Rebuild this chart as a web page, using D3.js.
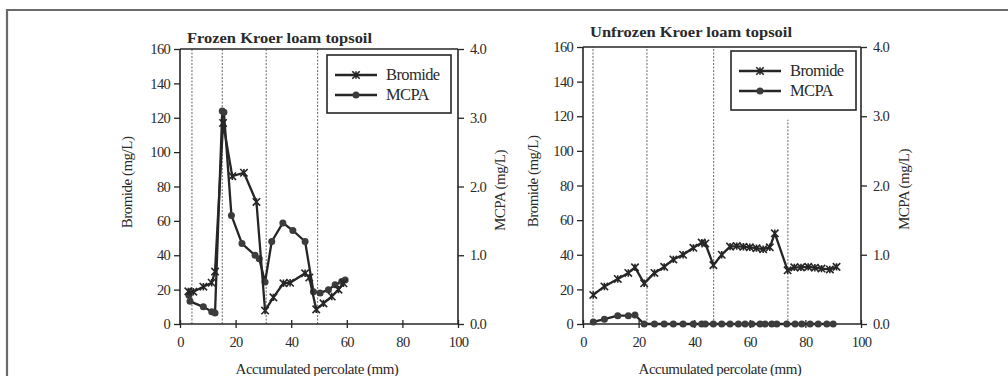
<!DOCTYPE html>
<html>
<head>
<meta charset="utf-8">
<script src="https://cdn.jsdelivr.net/npm/d3@7"></script>
<style>
  html, body { margin: 0; padding: 0; background: #fff; }
  svg { display: block; }
  text { font-family: "Liberation Serif", "DejaVu Serif", serif; fill: #2a2a2a; }
</style>
</head>
<body>
<svg id="chart" width="1008" height="376"></svg>
<script>
// ---------- Data ----------
const xTicks = [0, 20, 40, 60, 80, 100];
const bromideTicks = [0, 20, 40, 60, 80, 100, 120, 140, 160];
const mcpaTicks = [0, 1, 2, 3, 4];

// Frozen Kroer loam topsoil
const frozenBromideX = [3, 4.8, 8.4, 11.4, 12.6, 15.5, 18.8, 23, 27.5, 30.6, 33.6, 37.2, 39.6, 45, 46.5, 49, 51.6, 54.6, 57, 58.8];
const frozenBromideY = [19, 18.8, 21.7, 24, 30.5, 117, 86, 88, 71, 7.8, 15.5, 23.7, 24, 29.5, 27, 8.5, 12, 16, 20, 23.7];
const frozenMcpaX = [3.2, 3.6, 8.4, 11.4, 12.6, 15.2, 15.8, 18.5, 22.3, 27, 28.5, 30.6, 33, 37, 40.6, 45, 48, 50.4, 53.4, 55.8, 58.2, 59.4];
const frozenMcpaY = [0.42, 0.33, 0.25, 0.18, 0.16, 3.1, 3.08, 1.58, 1.17, 1.0, 0.95, 0.61, 1.2, 1.47, 1.36, 1.2, 0.47, 0.45, 0.5, 0.57, 0.62, 0.64];
const frozenBreaks = [4.3, 15.2, 31, 49.5];
const frozenBreakTops = [160, 160, 160, 160];

// Unfrozen Kroer loam topsoil
const unfrozenBromideX = [3.7, 7.7, 12.5, 16.3, 18.7, 22, 25.7, 29.2, 32.5, 36, 39.7, 42.7, 44, 46.9, 49.9, 52.9, 55.3, 57.7, 60, 62.4, 64.8, 67.2, 69, 73.6, 76, 78.4, 81, 83.4, 85.8, 88.8, 91.2];
const unfrozenBromideY = [16.8, 21.7, 26, 29.5, 32.7, 23.5, 29.5, 33, 37.3, 40, 44, 47, 46.5, 34, 40, 44.7, 45, 44.6, 44.3, 43.8, 43.2, 44.3, 52.4, 31, 32.7, 32.7, 33, 32.5, 32, 31.5, 33];
const unfrozenMcpaX = [3.7, 7.7, 12.5, 16.3, 18.7, 22, 25.7, 29.2, 32.5, 36, 39.7, 42.7, 44, 46.9, 49.9, 52.9, 55.9, 58.3, 60.7, 63.7, 65.5, 67.9, 69.7, 73.3, 76.3, 78.7, 81.7, 84.6, 87.7, 90];
const unfrozenMcpaY = [0.03, 0.07, 0.12, 0.12, 0.13, 0, 0, 0, 0, 0, 0, 0, 0, 0, 0, 0, 0, 0, 0, 0, 0, 0, 0, 0, 0, 0, 0, 0, 0, 0];
const unfrozenBreaks = [3.6, 23, 47, 73.7];
const unfrozenBreakTops = [160, 160, 160, 118];

const seriesNames = ["Bromide", "MCPA"];
const panelTitles = ["Frozen Kroer loam topsoil", "Unfrozen Kroer loam topsoil"];
const xAxisTitle = "Accumulated percolate (mm)";
const leftAxisTitle = "Bromide (mg/L)";
const rightAxisTitle = "MCPA (mg/L)";

// ---------- Drawing ----------
const svg = d3.select("#chart");
const ink = "#262626";

// outer frame
svg.append("path").attr("d", "M7,376 V10 H1008")
  .attr("fill", "none").attr("stroke", "#6a6a6a").attr("stroke-width", 2.2);

const panels = [
  { left: 180, right: 458, top: 49, bottom: 324,
    title: panelTitles[0], titleX: 187, titleY: 43, titleW: 185,
    brX: frozenBromideX, brY: frozenBromideY, mcX: frozenMcpaX, mcY: frozenMcpaY,
    breaks: frozenBreaks, breakTops: frozenBreakTops,
    legend: { x: 327, y: 55, w: 124, h: 58 },
    leftLabelX: 129, rightLabelX: 502 },
  { left: 583, right: 861, top: 47, bottom: 324,
    title: panelTitles[1], titleX: 590, titleY: 37, titleW: 202,
    brX: unfrozenBromideX, brY: unfrozenBromideY, mcX: unfrozenMcpaX, mcY: unfrozenMcpaY,
    breaks: unfrozenBreaks, breakTops: unfrozenBreakTops,
    legend: { x: 731, y: 51, w: 125, h: 59 },
    leftLabelX: 535, rightLabelX: 906 }
];

function crossPath(cx, cy, s) {
  return `M${cx - s},${cy - s}L${cx + s},${cy + s}M${cx - s},${cy + s}L${cx + s},${cy - s}M${cx},${cy - s}L${cx},${cy + s}`;
}

panels.forEach(p => {
  const g = svg.append("g");
  const x = d3.scaleLinear().domain([0, 100]).range([p.left, p.right]);
  const y = d3.scaleLinear().domain([0, 160]).range([p.bottom, p.top]);
  const y2 = d3.scaleLinear().domain([0, 4]).range([p.bottom, p.top]);

  // dotted event lines
  g.selectAll("line.brk").data(p.breaks).join("line")
    .attr("x1", d => x(d)).attr("x2", d => x(d))
    .attr("y1", y(0)).attr("y2", (d, i) => y(p.breakTops[i]))
    .attr("stroke", "#666").attr("stroke-width", 1).attr("stroke-dasharray", "2,1.5");

  // plot box (top line)
  g.append("line").attr("x1", p.left).attr("x2", p.right).attr("y1", p.top).attr("y2", p.top)
    .attr("stroke", ink).attr("stroke-width", 1.6);

  // axes
  const ax = g.append("g").attr("transform", `translate(0,${p.bottom})`)
    .call(d3.axisBottom(x).tickValues(xTicks).tickSize(4).tickPadding(9));
  ax.selectAll(".tick line").attr("y1", -4).attr("y2", 4);
  const ayl = g.append("g").attr("transform", `translate(${p.left},0)`)
    .call(d3.axisLeft(y).tickValues(bromideTicks).tickSize(6).tickPadding(4));
  const ayr = g.append("g").attr("transform", `translate(${p.right},0)`)
    .call(d3.axisRight(y2).tickValues(mcpaTicks).tickFormat(d3.format(".1f")).tickSize(6).tickPadding(6));
  [ax, ayl, ayr].forEach(a => {
    a.select(".domain").attr("stroke", ink).attr("stroke-width", 1.6);
    a.selectAll(".tick line").attr("stroke", ink).attr("stroke-width", 1.3);
    a.selectAll(".tick text").attr("font-family", "Liberation Serif").attr("font-size", 14.5)
      .attr("fill", "#2a2a2a").attr("letter-spacing", "-0.7px");
  });
  ayl.select(".domain").attr("d", `M0,${p.bottom}V${p.top}`);
  ayr.select(".domain").attr("d", `M0,${p.bottom}V${p.top}`);
  ax.select(".domain").attr("d", `M${p.left},0H${p.right}`);

  // series
  const line = d3.line();
  const brPts = p.brX.map((v, i) => [x(v), y(p.brY[i])]);
  const mcPts = p.mcX.map((v, i) => [x(v), y2(p.mcY[i])]);
  g.append("path").attr("d", line(mcPts)).attr("fill", "none")
    .attr("stroke", ink).attr("stroke-width", 2.3).attr("stroke-linejoin", "round");
  g.selectAll("circle.mc").data(mcPts).join("circle")
    .attr("cx", d => d[0]).attr("cy", d => d[1]).attr("r", 3.5).attr("fill", "#3c3c3c");
  g.append("path").attr("d", line(brPts)).attr("fill", "none")
    .attr("stroke", ink).attr("stroke-width", 2.3).attr("stroke-linejoin", "round");
  g.selectAll("path.br").data(brPts).join("path")
    .attr("d", d => crossPath(d[0], d[1], 3.7)).attr("fill", "none")
    .attr("stroke", ink).attr("stroke-width", 1.6);

  // title
  g.append("text").attr("x", p.titleX).attr("y", p.titleY)
    .attr("font-weight", "bold").attr("font-size", 15).attr("fill", "#1e1e1e")
    .attr("textLength", p.titleW).attr("lengthAdjust", "spacingAndGlyphs")
    .text(p.title);

  // axis titles
  g.append("text").attr("x", (p.left + p.right) / 2 - 2).attr("y", 374)
    .attr("text-anchor", "middle").attr("font-size", 15).attr("letter-spacing", "-0.5px")
    .text(xAxisTitle);
  g.append("text").attr("transform", `translate(${p.leftLabelX},${(p.top + p.bottom) / 2 - 4}) rotate(-90)`)
    .attr("text-anchor", "middle").attr("dominant-baseline", "middle").attr("font-size", 15)
    .attr("letter-spacing", "-0.5px").text(leftAxisTitle);
  g.append("text").attr("transform", `translate(${p.rightLabelX},${(p.top + p.bottom) / 2 + 4}) rotate(-90)`)
    .attr("text-anchor", "middle").attr("dominant-baseline", "middle").attr("font-size", 15)
    .attr("letter-spacing", "-0.5px").text(rightAxisTitle);

  // legend
  const L = p.legend;
  g.append("rect").attr("x", L.x).attr("y", L.y).attr("width", L.w).attr("height", L.h)
    .attr("fill", "#fff").attr("stroke", ink).attr("stroke-width", 1.6);
  seriesNames.forEach((name, i) => {
    const ly = L.y + 20 + i * 20;
    const x1 = L.x + 8, x2 = L.x + 50, mx = (x1 + x2) / 2;
    g.append("line").attr("x1", x1).attr("x2", x2).attr("y1", ly).attr("y2", ly)
      .attr("stroke", ink).attr("stroke-width", 2.3);
    if (i === 0) {
      g.append("path").attr("d", crossPath(mx, ly, 3.7)).attr("fill", "none")
        .attr("stroke", ink).attr("stroke-width", 1.6);
    } else {
      g.append("circle").attr("cx", mx).attr("cy", ly).attr("r", 3.5).attr("fill", "#3c3c3c");
    }
    g.append("text").attr("x", L.x + 59).attr("y", ly + 5).attr("font-size", 16.5)
      .attr("letter-spacing", "-0.6px").text(name);
  });
});
</script>
</body>
</html>
